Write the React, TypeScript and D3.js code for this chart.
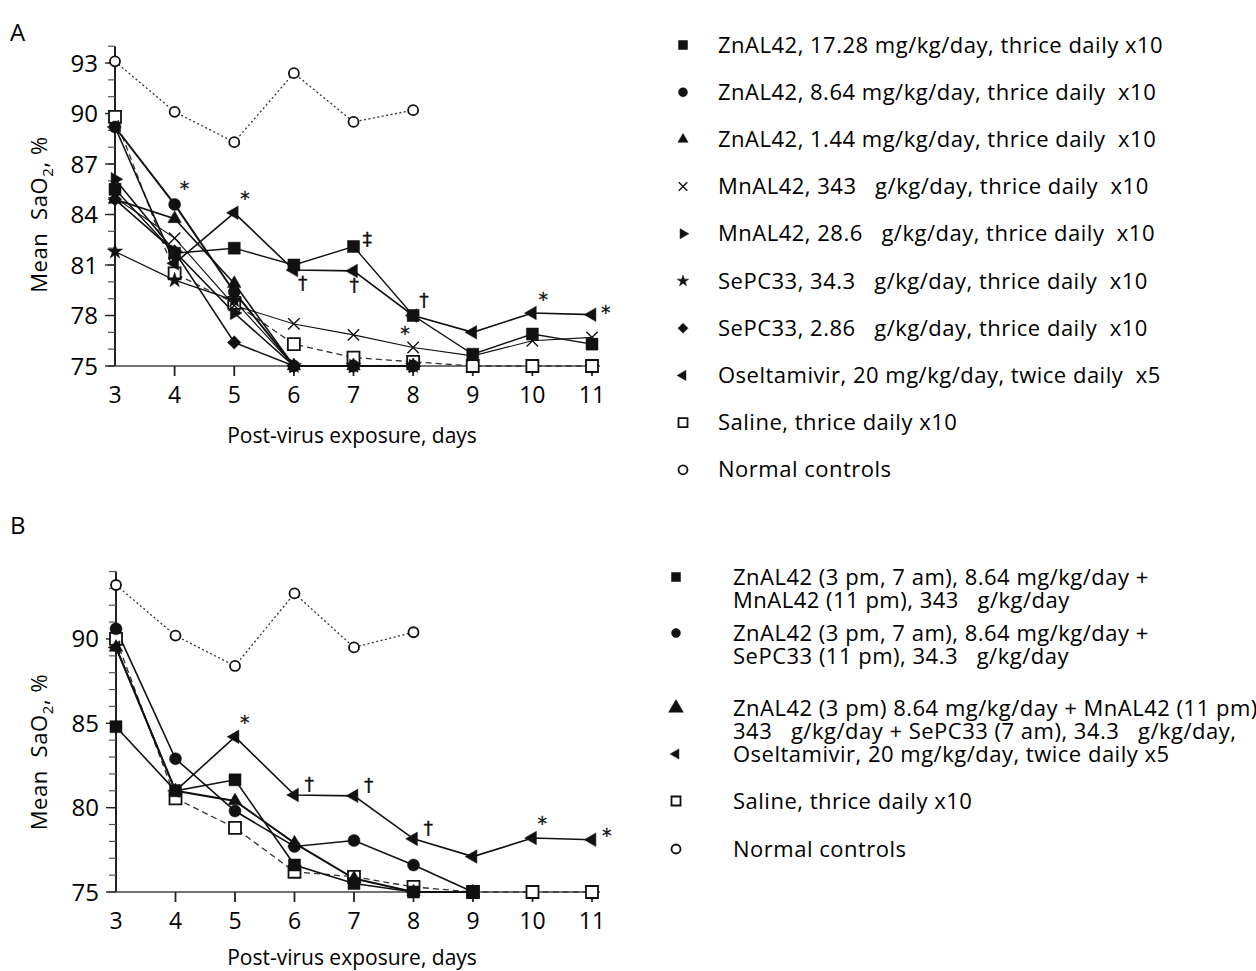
import React from "react";
import * as d3 from "d3";

// ---------- DATA ----------
const daysA = [3, 4, 5, 6, 7, 8, 9, 10, 11];
const daysB = [3, 4, 5, 6, 7, 8, 9, 10, 11];

// Panel A series (Mean SaO2, %)
const aZn1728 = [85.5, 81.7, 82.0, 81.0, 82.1, 78.0, 75.7, 76.9, 76.3];
const aZn864 = [89.2, 84.6, 79.4, 75.0, 75.0, 75.0];
const aZn144 = [84.9, 83.75, 79.9, 75.0, 75.0, 75.0];
const aMn343 = [85.0, 82.6, 78.6, 77.5, 76.85, 76.1, 75.6, 76.5, 76.7];
const aMn286 = [86.1, 81.8, 78.15, 75.0, 75.0, 75.0];
const aSe343 = [81.8, 80.1, 78.9, 75.0, 75.0, 75.0];
const aSe286 = [84.9, 81.8, 76.4, 75.0, 75.0, 75.0];
const aOselt = [89.2, 81.1, 84.1, 80.7, 80.65, 78.0, 77.0, 78.15, 78.05];
const aSaline = [89.8, 80.5, 78.75, 76.3, 75.5, 75.25, 75.0, 75.0, 75.0];
const aNormal = [93.1, 90.1, 88.3, 92.4, 89.5, 90.2];

// Panel B series
const bZnMn = [84.8, 81.0, 81.65, 76.6, 75.5, 75.0, 75.0];
const bZnSe = [90.6, 82.9, 79.8, 77.7, 78.05, 76.6, 75.0];
const bZnMnSe = [89.5, 81.0, 80.4, 77.9, 75.8, 75.0, 75.0];
const bOselt = [89.5, 81.0, 84.2, 80.75, 80.7, 78.15, 77.1, 78.2, 78.1];
const bSaline = [90.0, 80.55, 78.8, 76.2, 75.9, 75.3, 75.0, 75.0, 75.0];
const bNormal = [93.2, 90.2, 88.4, 92.7, 89.5, 90.4];

const xTicks = [3, 4, 5, 6, 7, 8, 9, 10, 11];
const yMajorA = [75, 78, 81, 84, 87, 90, 93];
const yMajorB = [75, 80, 85, 90];

const legendA = [
  "ZnAL42, 17.28 mg/kg/day, thrice daily x10",
  "ZnAL42, 8.64 mg/kg/day, thrice daily  x10",
  "ZnAL42, 1.44 mg/kg/day, thrice daily  x10",
  "MnAL42, 343   g/kg/day, thrice daily  x10",
  "MnAL42, 28.6   g/kg/day, thrice daily  x10",
  "SePC33, 34.3   g/kg/day, thrice daily  x10",
  "SePC33, 2.86   g/kg/day, thrice daily  x10",
  "Oseltamivir, 20 mg/kg/day, twice daily  x5",
  "Saline, thrice daily x10",
  "Normal controls",
];
const legendB = [
  ["ZnAL42 (3 pm, 7 am), 8.64 mg/kg/day +", "MnAL42 (11 pm), 343   g/kg/day"],
  ["ZnAL42 (3 pm, 7 am), 8.64 mg/kg/day +", "SePC33 (11 pm), 34.3   g/kg/day"],
  ["ZnAL42 (3 pm) 8.64 mg/kg/day + MnAL42 (11 pm),", "343   g/kg/day + SePC33 (7 am), 34.3   g/kg/day,"],
  ["Oseltamivir, 20 mg/kg/day, twice daily x5"],
  ["Saline, thrice daily x10"],
  ["Normal controls"],
];

// annotations: [seriesKey, dayIndex, text, dx, dy]
const annA: [string, number, string, number, number][] = [
  ["zn864", 1, "*", 5, -9],
  ["oselt", 2, "*", 6, -8],
  ["zn1728", 4, "‡", 9, 0],
  ["oselt", 3, "†", 4, 20],
  ["oselt", 4, "†", -4, 21],
  ["zn1728", 5, "†", 6, -9],
  ["zn1728", 5, "*", -13, 24],
  ["oselt", 7, "*", 6, -7],
  ["oselt", 8, "*", 9, 4],
];
const annB: [string, number, string, number, number][] = [
  ["oselt", 2, "*", 5, -8],
  ["oselt", 3, "†", 10, -4],
  ["oselt", 4, "†", 10, -4],
  ["oselt", 5, "†", 10, -4],
  ["oselt", 7, "*", 5, -8],
  ["oselt", 8, "*", 10, 2],
];

// ---------- STYLES ----------
type Mk = "sq" | "ci" | "tu" | "tr" | "tl" | "x" | "st" | "di" | "osq" | "oci";
const FONT = "'Open Sans', 'Noto Sans', sans-serif";
const SYMFONT = "'DejaVu Sans', sans-serif";

function markerPath(m: Mk, s: number): string {
  const sym = d3.symbol();
  switch (m) {
    case "sq":
    case "osq":
      return sym.type(d3.symbolSquare).size(s * s)()!;
    case "ci":
    case "oci":
      return sym.type(d3.symbolCircle).size((Math.PI * s * s) / 4)()!;
    case "tu":
    case "tr":
    case "tl":
      return sym.type(d3.symbolTriangle).size(s * s * 0.55)()!;
    case "x":
      return sym.type(d3.symbolTimes).size(s * s * 0.6)()!;
    case "st":
      return sym.type(d3.symbolStar).size(s * s * 0.5)()!;
    case "di":
      return sym.type(d3.symbolSquare).size(s * s * 0.62)()!;
  }
}
function rot(m: Mk) {
  if (m === "tr") return 90;
  if (m === "tl") return -90;
  if (m === "di") return 45;
  return 0;
}

function Marker({ m, x, y, s }: { m: Mk; x: number; y: number; s: number }) {
  const open = m === "osq" || m === "oci";
  const stroke = m === "x";
  return (
    <path
      d={markerPath(m, s)}
      transform={`translate(${x},${y}) rotate(${rot(m)})`}
      fill={open ? "#fff" : stroke ? "none" : "#111"}
      stroke="#111"
      strokeWidth={open ? 1.8 : stroke ? 1.4 : 0.5}
    />
  );
}

type Series = { key: string; vals: number[]; m: Mk; w: number; dash?: string; color?: string; size?: number };

const seriesA: Series[] = [
  { key: "normal", vals: aNormal, m: "oci", w: 1.3, dash: "2,2.5", color: "#333", size: 10 },
  { key: "saline", vals: aSaline, m: "osq", w: 1.3, dash: "6,4", color: "#333", size: 12 },
  { key: "se343", vals: aSe343, m: "st", w: 1.2 },
  { key: "mn343", vals: aMn343, m: "x", w: 1.1 },
  { key: "se286", vals: aSe286, m: "di", w: 1.6 },
  { key: "mn286", vals: aMn286, m: "tr", w: 1.6 },
  { key: "zn144", vals: aZn144, m: "tu", w: 1.6 },
  { key: "zn864", vals: aZn864, m: "ci", w: 2.0 },
  { key: "oselt", vals: aOselt, m: "tl", w: 1.6 },
  { key: "zn1728", vals: aZn1728, m: "sq", w: 1.4 },
];
const seriesB: Series[] = [
  { key: "normal", vals: bNormal, m: "oci", w: 1.3, dash: "2,2.5", color: "#333", size: 10 },
  { key: "saline", vals: bSaline, m: "osq", w: 1.3, dash: "6,4", color: "#333", size: 12 },
  { key: "znmnse", vals: bZnMnSe, m: "tu", w: 2.0 },
  { key: "znse", vals: bZnSe, m: "ci", w: 1.6 },
  { key: "znmn", vals: bZnMn, m: "sq", w: 1.6 },
  { key: "oselt", vals: bOselt, m: "tl", w: 1.6 },
];

function Panel({
  days, series, yTop, yBot, x0, x1, yMajor, ann, label, labelY, xLabelDy, yLabelAt,
}: {
  days: number[]; series: Series[]; yTop: number; yBot: number; x0: number; x1: number;
  yMajor: number[]; ann: [string, number, string, number, number][]; label: string; labelY: number;
  xLabelDy: number; yLabelAt: number;
}) {
  const x = d3.scaleLinear().domain([3, 11]).range([x0, x1]);
  const y = d3.scaleLinear().domain([75, 94]).range([yBot, yTop]);
  const minors = d3.range(75, 95, 1);
  const line = d3.line<number>().x((_, i) => x(days[i])).y((v) => y(v));
  const byKey: Record<string, Series> = {};
  series.forEach((s) => (byKey[s.key] = s));
  const axX = x0;
  return (
    <g>
      <text x={10} y={labelY} fontFamily={FONT} fontSize={24}>{label}</text>
      {/* y axis */}
      <line x1={axX} x2={axX} y1={y(94)} y2={y(75)} stroke="#222" strokeWidth={2} />
      {minors.map((v) => (
        <line key={"mi" + v} x1={axX - 7} x2={axX} y1={y(v)} y2={y(v)} stroke="#555" strokeWidth={1.2} />
      ))}
      {yMajor.map((v) => (
        <g key={"ma" + v}>
          <line x1={axX - 10} x2={axX} y1={y(v)} y2={y(v)} stroke="#222" strokeWidth={1.4} />
          <text x={axX - 17} y={y(v) + 8.5} textAnchor="end" fontFamily={FONT} fontSize={24}>{v}</text>
        </g>
      ))}
      {/* x axis */}
      <line x1={axX} x2={x(11) + 8} y1={y(75)} y2={y(75)} stroke="#444" strokeWidth={1.4} />
      {xTicks.map((t) => (
        <g key={"xt" + t}>
          {t > 3 && <line x1={x(t)} x2={x(t)} y1={y(75)} y2={y(75) + 10} stroke="#222" strokeWidth={1.8} />}
          <text x={x(t)} y={y(75) + 37} textAnchor="middle" fontFamily={FONT} fontSize={23}>{t}</text>
        </g>
      ))}
      <text x={352} y={y(75) + xLabelDy} textAnchor="middle" fontFamily={FONT} fontSize={21}>Post-virus exposure, days</text>
      <text
        transform={`translate(47,${y(yLabelAt)}) rotate(-90)`}
        textAnchor="middle"
        fontFamily={FONT}
        fontSize={22}
        letterSpacing={0.6}
        style={{ whiteSpace: "pre" }}
      >
        Mean  SaO<tspan dy={6} fontSize={15}>2</tspan><tspan dy={-6}>, %</tspan>
      </text>
      {/* lines */}
      {series.map((s) => (
        <path
          key={"l" + s.key}
          d={line(s.vals)!}
          fill="none"
          stroke={s.color || "#111"}
          strokeWidth={s.w}
          strokeDasharray={s.dash}
        />
      ))}
      {/* markers */}
      {series.map((s) =>
        s.vals.map((v, i) => (
          <Marker key={s.key + i} m={s.m} x={x(days[i])} y={y(v)} s={s.size ?? 12} />
        ))
      )}
      {ann.map(([k, i, t, dx, dy], j) => (
        <text key={"an" + j} x={x(days[i]) + dx} y={y(byKey[k].vals[i]) + dy} fontFamily={SYMFONT} fontSize={19} fill="#111" stroke="#111" strokeWidth={0.3}>{t}</text>
      ))}
    </g>
  );
}

const markersA: Mk[] = ["sq", "ci", "tu", "x", "tr", "st", "di", "tl", "osq", "oci"];
const markersB: Mk[] = ["sq", "ci", "tu", "tl", "osq", "oci"];

export default function App() {
  const rowsA = d3.range(legendA.length).map((i) => 45 + i * 47.2);
  const rowsB = [577, 633, 708, 754, 801, 849];
  return (
    <svg
      width={1256}
      height={971}
      style={{ position: "absolute", left: 0, top: 0, background: "#fff" }}
    >
      <rect x={0} y={0} width={1256} height={971} fill="#fff" />
      <Panel days={daysA} series={seriesA} yTop={46.2} yBot={366} x0={115} x1={592}
        yMajor={yMajorA} ann={annA} label="A" labelY={41} xLabelDy={77} yLabelAt={84} />
      <Panel days={daysB} series={seriesB} yTop={571.5} yBot={892} x0={116} x1={592}
        yMajor={yMajorB} ann={annB} label="B" labelY={534} xLabelDy={73} yLabelAt={83.3} />
      {/* Legend A */}
      {legendA.map((t, i) => (
        <g key={"la" + i}>
          <Marker m={markersA[i]} x={683} y={rowsA[i]} s={9} />
          <text x={718} y={rowsA[i] + 7.5} fontFamily={FONT} fontSize={22} letterSpacing={0.5} style={{ whiteSpace: "pre" }}>{t}</text>
        </g>
      ))}
      {/* Legend B */}
      {legendB.map((lines, i) => (
        <g key={"lb" + i}>
          <Marker m={markersB[i]} x={676} y={rowsB[i]} s={i === 2 ? 13 : 9} />
          {lines.map((t, j) => (
            <text key={j} x={733} y={rowsB[i] + 7.5 + j * 23} fontFamily={FONT} fontSize={22} letterSpacing={0.5} style={{ whiteSpace: "pre" }}>{t}</text>
          ))}
        </g>
      ))}
    </svg>
  );
}
